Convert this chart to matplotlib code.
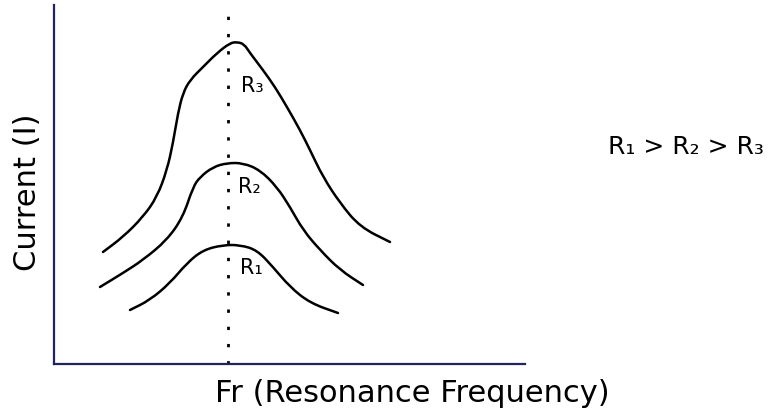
import matplotlib
matplotlib.use("Agg")
import matplotlib.pyplot as plt
from matplotlib.path import Path
from matplotlib.patches import PathPatch

# resonance curves: frequency vs current for three resistances
r3_freq = [49, 69, 89, 103, 113, 119, 124, 129, 136, 149, 163, 176, 183, 190, 196, 209, 221, 233, 246, 256, 269, 286, 306, 336]
r3_curr = [112, 127, 147, 167, 194, 221, 251, 271, 284, 297, 311, 321, 322, 320, 311, 294, 277, 257, 234, 214, 187, 161, 137, 122]

r2_freq = [46, 69, 89, 113, 129, 139, 146, 159, 173, 189, 206, 223, 236, 249, 266, 286, 309]
r2_curr = [77, 91, 104, 124, 147, 177, 187, 197, 201, 201, 194, 177, 157, 134, 114, 94, 79]

r1_freq = [76, 96, 116, 133, 149, 169, 186, 203, 219, 236, 256, 284]
r1_curr = [54, 64, 81, 101, 114, 119, 119, 114, 97, 77, 61, 51]

resonance_freq = 174
curve_labels = ["R₁", "R₂", "R₃"]
label_pos = [(197, 96), (195, 177), (198, 278)]


def smooth_path(xs, ys):
    # quadratic bezier through midpoints, using the points as control points
    pts = list(zip(xs, ys))
    verts = [pts[0]]
    codes = [Path.MOVETO]
    mid = lambda a, b: ((a[0] + b[0]) / 2, (a[1] + b[1]) / 2)
    verts.append(mid(pts[0], pts[1]))
    codes.append(Path.LINETO)
    for i in range(1, len(pts) - 1):
        verts += [pts[i], mid(pts[i], pts[i + 1])]
        codes += [Path.CURVE3, Path.CURVE3]
    verts.append(pts[-1])
    codes.append(Path.LINETO)
    return Path(verts, codes)


W, H = 778, 417
fig = plt.figure(figsize=(W / 100, H / 100), dpi=100)
fig.patch.set_facecolor("white")

ax = fig.add_axes([54 / W, (H - 364) / H, 471 / W, 359 / H])
ax.set_xlim(0, 471)
ax.set_ylim(0, 359)
ax.set_facecolor("white")

axis_color = "#23235e"
for side in ["top", "right"]:
    ax.spines[side].set_visible(False)
for side in ["left", "bottom"]:
    ax.spines[side].set_color(axis_color)
    ax.spines[side].set_linewidth(1.6)
ax.set_xticks([])
ax.set_yticks([])

for fr, cur in [(r3_freq, r3_curr), (r2_freq, r2_curr), (r1_freq, r1_curr)]:
    ax.add_patch(PathPatch(smooth_path(fr, cur), fill=False, edgecolor="black",
                           lw=1.8, capstyle="round", joinstyle="round"))

# dotted line at resonance frequency
ax.plot([resonance_freq, resonance_freq], [0, 356], color="black",
        lw=2.0, linestyle=(0, (1.2, 5)), dash_capstyle="butt")

for lab, (x, y) in zip(curve_labels, label_pos):
    ax.text(x, y, lab, fontsize=15, ha="center", va="center", color="black")

fig.text(686 / W, 1 - 147 / H, "R₁ > R₂ > R₃", fontsize=18,
         ha="center", va="center", color="black")
fig.text(28 / W, 1 - 192 / H, "Current (I)", fontsize=22, rotation=90,
         ha="center", va="center", color="black")
fig.text(412 / W, 1 - 393 / H, "Fr (Resonance Frequency)", fontsize=22,
         ha="center", va="center", color="black")

fig.savefig("out.png", dpi=100)
